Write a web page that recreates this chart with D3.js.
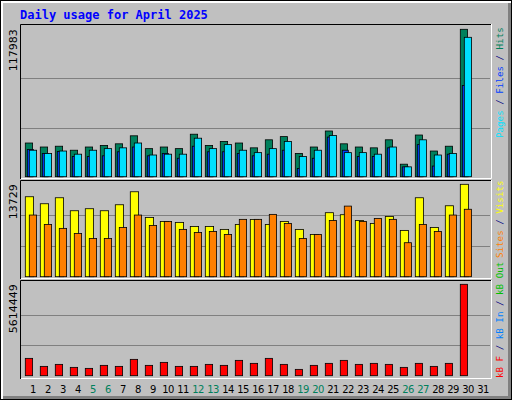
<!DOCTYPE html>
<html><head><meta charset="utf-8">
<script src="https://cdn.jsdelivr.net/npm/d3@7"></script>
<style>body{margin:0;background:#fff}svg{display:block}</style>
</head><body><svg id="c" width="512" height="400"></svg>
<script>
const days = d3.range(1,32);
const weekends = [5,6,12,13,19,20,26,27];
const hits  = [26960,23760,24400,21190,23760,25040,26320,32730,22470,23760,22470,34010,25040,28250,26960,23100,29530,32090,18630,23760,36580,26320,23760,23100,29530,10020,33370,20550,24400,117983];
const files = [21830,18630,20160,16090,16090,16720,19950,23760,16720,18630,14780,24400,19950,19950,18630,16720,18020,21190,6620,14780,31730,21190,16090,16090,23100,7880,25680,8520,18020,72940];
const pages = [21190,18630,20550,18020,21190,22470,23100,26960,17360,18020,18020,30810,22470,25680,21190,19270,22470,28250,16090,21190,32980,19270,19270,18020,23760,7880,29530,17360,18630,111570];
const visits = [11880,10840,11730,9800,10100,9800,10690,12620,8810,8210,8070,7470,7470,7030,7770,8510,7770,8210,7030,6280,9510,9210,8360,7920,8960,6880,11730,7320,10540,13729];
const sites  = [9160,7770,7180,6430,5680,5680,7320,9160,7620,8210,7030,6580,6730,6280,8520,8520,9260,7920,5680,6280,8360,10490,8210,8660,8520,5050,7770,6730,9160,10020];
const kb = [1065000,573000,696000,512000,450000,635000,573000,1004000,635000,819000,573000,573000,696000,635000,942000,758000,1065000,696000,389000,635000,758000,942000,696000,758000,696000,512000,758000,573000,758000,5614449];

const svg = d3.select("#c");
svg.append("rect").attr("width",512).attr("height",400).attr("fill","#000");
svg.append("rect").attr("x",1).attr("y",1).attr("width",510).attr("height",398).attr("fill","#fff");
svg.append("rect").attr("x",3).attr("y",3).attr("width",508).attr("height",396).attr("fill","#808080");
svg.append("rect").attr("x",3).attr("y",3).attr("width",505).attr("height",393).attr("fill","#C0C0C0");

svg.append("text").attr("x",20).attr("y",19).text("Daily usage for April 2025")
  .attr("font-family","DejaVu Sans Mono").attr("font-weight","bold").attr("font-size",12).attr("fill","#0000FF");

const x = d3.scaleLinear().domain([1,31]).range([25.3,475.3]);
const mono = "DejaVu Sans Mono";

function panel(y0,y1,base,top,max){
  const g = svg.append("g");
  const y = d3.scaleLinear().domain([0,max]).range([base,top]);
  [max/3,2*max/3].forEach(v=>g.append("line").attr("x1",21).attr("x2",490).attr("y1",Math.round(y(v))+0.5).attr("y2",Math.round(y(v))+0.5).attr("stroke","#808080"));
  g.append("path").attr("d",`M20.5,${y1}V${y0+0.5}H491`).attr("fill","none").attr("stroke","#000");
  g.append("path").attr("d",`M21,${y1-0.5}H491.5V${y0}`).attr("fill","none").attr("stroke","#fff");
  g.append("text").attr("transform",`translate(17,${top})rotate(-90)`).attr("text-anchor","end")
    .attr("font-family","DejaVu Sans").attr("font-size",11).attr("fill","#000").text(max);
  return y;
}
function bars(y,data,off,w,color){
  svg.append("g").selectAll("rect").data(data).join("rect")
    .attr("x",(d,i)=>x(i+1)+off).attr("width",w)
    .attr("y",d=>y(d)).attr("height",d=>y(0)-y(d))
    .attr("fill",color).attr("stroke","#000").attr("stroke-width",0.8);
}
const y1 = panel(24,179,176.7,29.3,117983);
bars(y1,hits,0,7.3,"#00805C");
bars(y1,files,2,6,"#0040FF");
bars(y1,pages,4,7.3,"#00E0FF");
const y2 = panel(180,279,276.7,184.3,13729);
bars(y2,visits,0,8.3,"#FFFF00");
bars(y2,sites,4,7.3,"#FF8000");
const y3 = panel(280,379,375.7,284.3,5614449);
bars(y3,kb,0,7.3,"#FF0000");

svg.append("g").selectAll("text").data(days).join("text")
  .attr("x",d=>x(d)+7.7).attr("y",393).attr("text-anchor","middle")
  .attr("font-family","DejaVu Sans").attr("font-size",10).attr("letter-spacing",-0.6)
  .attr("fill",d=>weekends.includes(d)?"#00805C":"#000").text(d=>d);

function sideLabel(yBottom,parts){
  const t = svg.append("text").attr("transform",`translate(503,${yBottom})rotate(-90)`)
    .attr("font-family",mono).attr("font-size",9.2);
  parts.forEach(([s,c])=>t.append("tspan").attr("fill",c).text(s));
}
sideLabel(138,[["Pages","#00E0FF"],[" / ","#000080"],["Files","#0040FF"],[" / ","#000080"],["Hits","#00805C"]]);
sideLabel(258,[["Sites","#FF8000"],[" / ","#000080"],["Visits","#FFFF00"]]);
sideLabel(378,[["kB F","#FF0000"],[" / ","#000080"],["kB In","#0080FF"],[" / ","#000080"],["kB Out","#00C000"]]);
</script></body></html>
